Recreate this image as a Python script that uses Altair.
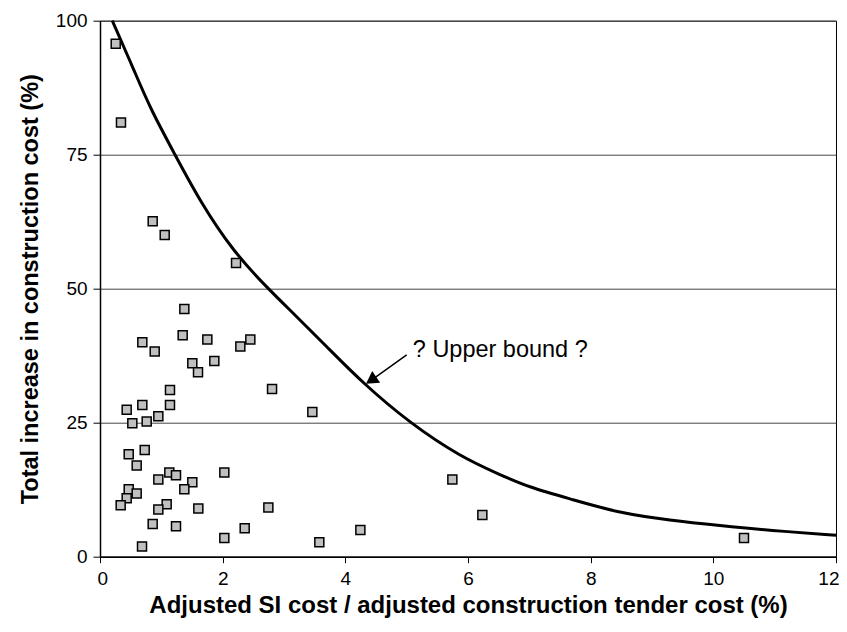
import altair as alt
import pandas as pd

# Scatter data (x = adjusted SI cost / tender cost %, y = total increase %)
px = [0.256, 0.342, 0.859, 1.055, 2.218, 1.375, 0.690, 0.892, 1.348, 1.750,
      2.288, 2.451, 1.505, 1.864, 1.598, 1.141, 2.805, 0.690, 1.141, 0.435,
      3.462, 0.527, 0.761, 0.951, 0.468, 0.729, 0.598, 1.130, 1.239, 0.951,
      2.027, 1.505, 1.375, 0.468, 0.598, 0.435, 0.337, 1.087, 0.951, 1.603,
      2.745, 0.859, 1.239, 2.359, 2.027, 3.576, 0.685, 5.745, 6.234, 4.245,
      10.50]
py = [95.7, 81.0, 62.6, 60.0, 54.8, 46.2, 40.0, 38.3, 41.3, 40.5,
      39.2, 40.5, 36.1, 36.5, 34.4, 31.1, 31.3, 28.3, 28.3, 27.4,
      27.0, 24.9, 25.2, 26.2, 19.1, 19.9, 17.0, 15.7, 15.2, 14.4,
      15.7, 13.9, 12.6, 12.6, 11.8, 10.9, 9.6, 9.8, 8.8, 9.0,
      9.2, 6.1, 5.7, 5.3, 3.5, 2.7, 1.9, 14.4, 7.8, 5.0,
      3.5]

# Upper-bound curve
cx = [0.20, 0.543, 0.815, 1.223, 1.63, 2.174, 2.74, 3.152, 3.696, 4.293,
      5.055, 5.87, 6.52, 7.01, 7.66, 8.48, 9.29, 10.11, 10.92, 12.0]
cy = [100, 91.1, 83.7, 75.0, 66.3, 56.9, 50.0, 45.4, 39.2, 32.3,
      24.9, 18.7, 15.3, 12.9, 10.8, 8.1, 6.8, 5.8, 4.9, 4.0]

# Annotation
note_text = ["? Upper bound ?"]
note_x = [5.10]
note_y = [38.6]
arrow_x = [5.0, 4.42]
arrow_y = [37.66, 32.9]
head_x = [4.42]
head_y = [32.9]

pts = pd.DataFrame({"x": px, "y": py})
curve = pd.DataFrame({"x": cx, "y": cy})
note = pd.DataFrame({"x": note_x, "y": note_y, "t": note_text})
arrow = pd.DataFrame({"x": arrow_x, "y": arrow_y})
head = pd.DataFrame({"x": head_x, "y": head_y})

xs = alt.Scale(domain=[0, 12], nice=False, zero=False)
ys = alt.Scale(domain=[0, 100], nice=False)

xaxis = alt.Axis(values=[0, 2, 4, 6, 8, 10, 12], grid=False,
                 labelFlush=True, labelFlushOffset=3,
                 title="Adjusted SI cost / adjusted construction tender cost (%)",
                 tickSize=6, labelPadding=7, titlePadding=5, titleFontSize=24)
yaxis = alt.Axis(values=[0, 25, 50, 75, 100], grid=True, labelFlush=False,
                 title="Total increase in construction cost (%)",
                 tickSize=7, labelPadding=6, titlePadding=13, titleFontSize=23.5)

X = alt.X("x:Q", scale=xs, axis=xaxis)
Y = alt.Y("y:Q", scale=ys, axis=yaxis)

line = alt.Chart(curve).mark_line(color="black", strokeWidth=3,
                                  interpolate="basis").encode(x=X, y=Y)
points = alt.Chart(pts).mark_point(shape="square", size=81, filled=True,
                                   fill="#c0c0c0", stroke="black",
                                   strokeWidth=1.5, opacity=1).encode(x=X, y=Y)
text = alt.Chart(note).mark_text(align="left", baseline="middle", fontSize=23.5,
                                 font="Liberation Sans", color="black").encode(
    x=X, y=Y, text="t:N")
arr = alt.Chart(arrow).mark_line(color="black", strokeWidth=1.5).encode(x=X, y=Y)
arrhead = alt.Chart(head).mark_point(shape="triangle-up", size=200, filled=True,
                                     color="black", opacity=1,
                                     angle=236).encode(x=X, y=Y)

chart = alt.layer(line, points, arr, arrhead, text).properties(
    width=736, height=536,
    autosize=alt.AutoSizeParams(type="none"),
    padding={"left": 92, "top": 12.7, "right": 3, "bottom": 66},
).configure_view(stroke="black", strokeWidth=1).configure_axis(
    labelFont="Liberation Sans", labelFontSize=19, labelColor="black",
    titleFont="Liberation Sans", titleFontWeight="bold",
    titleColor="black", domainColor="black", domainWidth=1.5,
    tickColor="black", tickWidth=1, gridColor="#444444", gridWidth=1,
)

chart.save("out.html", embed_options={"renderer": "svg", "actions": False})
